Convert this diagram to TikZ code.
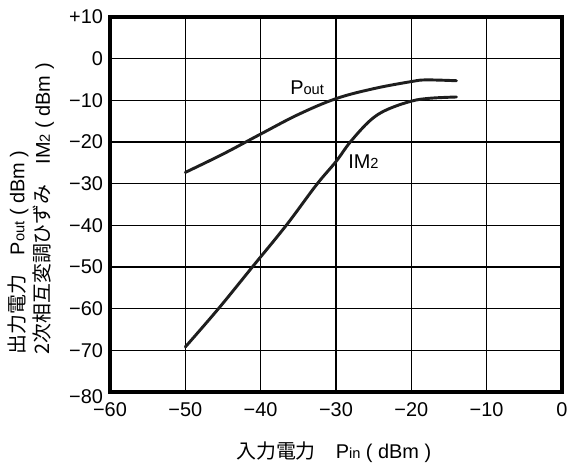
\documentclass[tikz,border=0pt]{standalone}
\usepackage{fontspec}
\usepackage{tikz}
\setmainfont{Liberation Sans}
\newfontfamily\jpfont{Noto Sans CJK JP}[Scale=1.0]
\usetikzlibrary{positioning}
\definecolor{curveblack}{RGB}{30, 30, 30}
\tikzset{
    gridline/.style={line width=1.2pt, black},
    frameline/.style={line width=2.8pt, black},
    curveline/.style={line width=2.5pt, curveblack, line cap=round},
    ticklabel/.style={font=\fontsize{17}{20}\selectfont, inner sep=0pt},
    axistitle/.style={font=\fontsize{17}{20}\selectfont, inner sep=0pt},
    curvelabel/.style={font=\fontsize{17}{20}\selectfont, inner sep=0pt}
}
\newcommand{\lowsub}[1]{{\fontsize{12.5}{14}\selectfont #1}}

\begin{document}
\begin{tikzpicture}[x=0.226cm, y=0.125cm]
    \useasboundingbox (-74.6,-98.24) rectangle (1.2,14.08);

    % grid and frame
    \foreach \gx in {-50,-40,...,-10}
        \draw[gridline] (\gx,-80) -- (\gx,10);
    \foreach \gy in {-70,-60,...,0}
        \draw[gridline] (-60,\gy) -- (0,\gy);
    \draw[frameline] (-60,-80) rectangle (0,10);

    % tick labels
    \node[ticklabel, anchor=east] (yl10) at (-60.9,10) {+10};
    \node[ticklabel, anchor=east] (yl0) at (-60.9,0) {0};
    \foreach \ty in {10,20,...,70}
        \node[ticklabel, anchor=east] (yl-\ty) at (-60.9,-\ty) {−\ty};
    \node[ticklabel, anchor=east] (yl-80) at (-60.9,-81.2) {−80};
    \foreach \tx in {10,20,...,60}
        \node[ticklabel] (xl-\tx) at (-\tx,-84.2) {−\tx};
    \node[ticklabel] (xl0) at (0,-84.2) {0};

    % axis titles
    \node[axistitle] (xtitle) at (-30.3,-94.4)
        {{\jpfont 入力電力}\quad P\lowsub{in} ( dBm )};
    \node[axistitle, rotate=90, anchor=west] (ytitle1) at (-72.2,-71.1)
        {{\jpfont 出力電力}\quad P\lowsub{out} ( dBm )};
    \node[axistitle, rotate=90, anchor=west] (ytitle2) at (-68.8,-71.1)
        {{\jpfont 2次相互変調ひずみ}\quad IM\lowsub{2} ( dBm )};

    % curves
    \draw[curveline] plot[smooth, tension=0.6] coordinates {
        (-50,-27.3) (-45,-22.9) (-40,-18.1) (-35,-13.4) (-30,-9.6)
        (-25,-7.2) (-20,-5.5) (-18,-5.1) (-14,-5.3)};
    \draw[curveline] plot[smooth, tension=0.6] coordinates {
        (-50,-69.2) (-45.6,-60) (-41.1,-50) (-36.6,-40) (-32.6,-30.3)
        (-30,-24.7) (-28.1,-20) (-25.5,-14.9) (-23.3,-12.3) (-20,-10.2)
        (-17.5,-9.5) (-14,-9.2)};

    % curve labels
    \node[curvelabel, anchor=base west] (poutlabel) at (-36.1,-8.5) {P\lowsub{out}};
    \node[curvelabel, anchor=base west] (imlabel) at (-28.4,-26.3) {IM\lowsub{2}};
\end{tikzpicture}
\end{document}
